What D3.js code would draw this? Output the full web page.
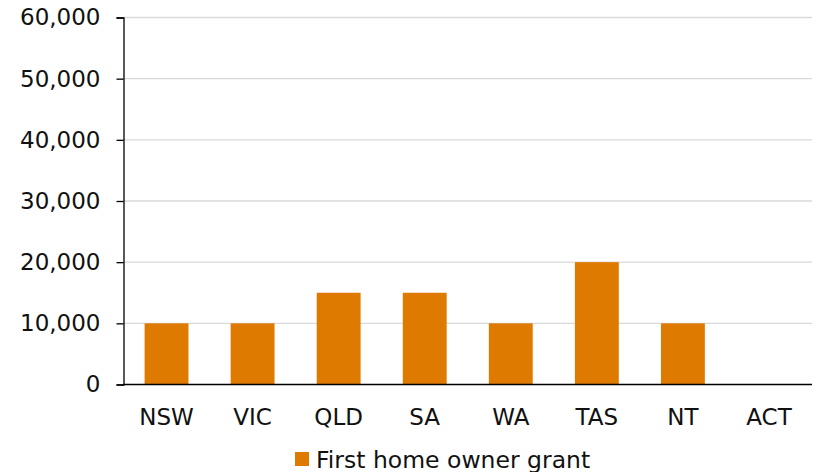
<!DOCTYPE html>
<html>
<head>
<meta charset="utf-8">
<script src="https://cdn.jsdelivr.net/npm/d3@7"></script>
<style>
  html, body { margin: 0; padding: 0; background: #fff; }
  svg { display: block; }
  text { font-family: "DejaVu Sans", Verdana, sans-serif; fill: #111; }
</style>
</head>
<body>
<svg id="chart" width="817" height="472"></svg>
<script>
// First home owner grant by state / territory (AUD)
const states = ["NSW", "VIC", "QLD", "SA", "WA", "TAS", "NT", "ACT"];
const grantValues = [10000, 10000, 15000, 15000, 10000, 20000, 10000, 0];
const yTicks = [0, 10000, 20000, 30000, 40000, 50000, 60000];
const seriesName = "First home owner grant";

const svg = d3.select("#chart");
const plot = { left: 123.5, right: 812, top: 17.5, bottom: 384.5 };
const barColor = "#df7a00";

const x = d3.scaleBand().domain(states).range([plot.left, plot.right]).paddingInner(0.49).paddingOuter(0.245);
const y = d3.scaleLinear().domain([0, 60000]).range([plot.bottom, plot.top]);

// gridlines
svg.append("g")
  .selectAll("line")
  .data(yTicks.filter(d => d > 0))
  .join("line")
  .attr("x1", plot.left).attr("x2", plot.right)
  .attr("y1", d => y(d)).attr("y2", d => y(d))
  .attr("stroke", "#d9d9d9").attr("stroke-width", 1.3);

// bars
svg.append("g")
  .selectAll("rect")
  .data(states.map((s, i) => ({ s, v: grantValues[i] })))
  .join("rect")
  .attr("x", d => x(d.s))
  .attr("width", x.bandwidth())
  .attr("y", d => y(d.v))
  .attr("height", d => y(0) - y(d.v))
  .attr("fill", barColor);

// y axis
const fmt = d3.format(",");
const yAxis = svg.append("g")
  .attr("transform", `translate(${plot.left},0)`)
  .call(d3.axisLeft(y).tickValues(yTicks).tickFormat(fmt).tickSize(7).tickPadding(16));
yAxis.select(".domain").attr("stroke", "#000").attr("stroke-width", 1.3);
yAxis.selectAll(".tick line").attr("stroke", "#000").attr("stroke-width", 1.3);
yAxis.selectAll("text").style("font-size", "23px").attr("fill", "#111");

// x axis
const xAxis = svg.append("g")
  .attr("transform", `translate(0,${plot.bottom})`)
  .call(d3.axisBottom(x).tickSize(0).tickPadding(24));
xAxis.select(".domain").attr("stroke", "#000").attr("stroke-width", 1.3)
  .attr("d", `M${plot.left},0H${plot.right}`);
xAxis.selectAll("text").style("font-size", "23px").attr("fill", "#111");

// legend
const legend = svg.append("g").attr("transform", "translate(295,452)");
legend.append("rect").attr("width", 14).attr("height", 14).attr("fill", barColor);
legend.append("text").attr("x", 21).attr("y", 15.5)
  .style("font-size", "23.5px").text(seriesName);
</script>
</body>
</html>
